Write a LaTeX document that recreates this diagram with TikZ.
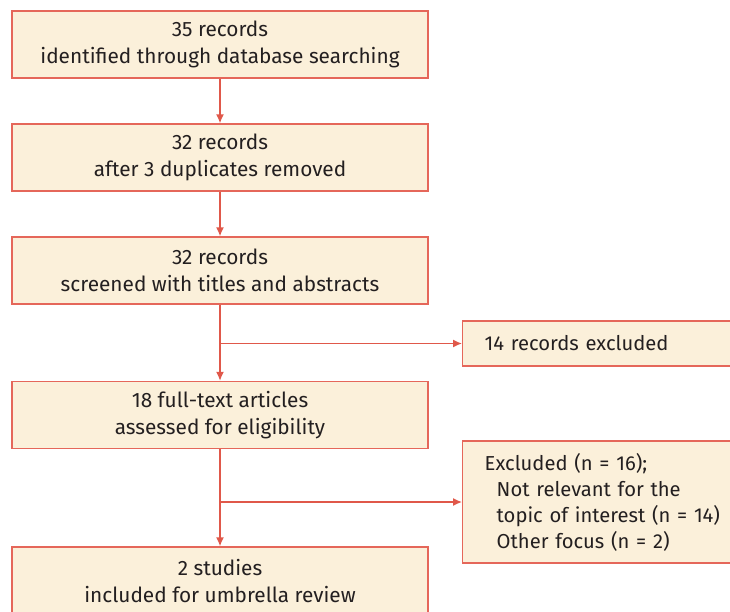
\documentclass[tikz,border=0pt]{standalone}
\usepackage{fontspec}
\setmainfont{Fira Sans}
\usetikzlibrary{arrows.meta,positioning}

\begin{document}
\begin{tikzpicture}[x=1pt,y=-1pt]

\newcommand{\bw}{416}
\newcommand{\bh}{67}
\newcommand{\cx}{220}
\newcommand{\rx}{462}

\definecolor{caixa}{HTML}{FBF0DA}
\definecolor{borda}{HTML}{E5675A}
\definecolor{seta}{HTML}{E0584A}
\definecolor{texto}{HTML}{231F20}

\tikzstyle{etapa}=[draw=borda,fill=caixa,line width=1.4pt,minimum width=\bw,minimum height=\bh,inner sep=0,align=center,font=\fontsize{20.8}{27}\selectfont,text=texto]
\tikzstyle{fora}=[draw=borda,fill=caixa,line width=1.4pt,minimum width=290,inner xsep=22,anchor=west,align=left,font=\fontsize{20.2}{26}\selectfont,text=texto,text width=246]
\tikzstyle{liga}=[draw=seta,line width=1.4pt,-{Latex[length=9pt,width=8pt]}]

\useasboundingbox (0,0) rectangle (730,611);
\clip (0,0) rectangle (730,611);

\node[etapa] (busca) at (\cx,44.5) {35 records\\identified through database searching};
\node[etapa] (duplic) at (\cx,157.5) {32 records\\after 3 duplicates removed};
\node[etapa] (triagem) at (\cx,270.5) {32 records\\screened with titles and abstracts};
\node[etapa] (texto) at (\cx,415) {18 full-text articles\\assessed for eligibility};
\node[etapa] (final) at (\cx,580.5) {2 studies\\included for umbrella review};

\node[fora,minimum height=45] (excl1) at (\rx,343.5) {14 records excluded};
\node[fora,minimum height=122] (excl2) at (\rx,502) {Excluded (n = 16);\\
    \hspace*{12pt}Not relevant for the\\
    \hspace*{12pt}topic of interest (n = 14)\\
    \hspace*{12pt}Other focus (n = 2)};

\draw[liga] (busca) -- (duplic);
\draw[liga] (duplic) -- (triagem);
\draw[liga] (triagem) -- (texto);
\draw[liga] (triagem.south |- excl1.west) -- (excl1.west);
\draw[liga] (texto) -- (final);
\draw[liga] (texto.south |- excl2.west) -- (excl2.west);

\end{tikzpicture}
\end{document}
